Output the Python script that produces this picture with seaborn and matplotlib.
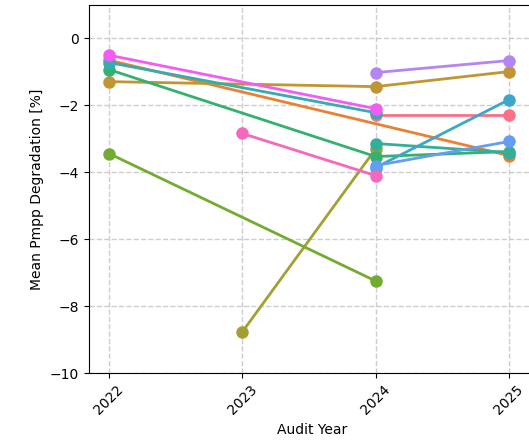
import matplotlib
matplotlib.use("Agg")
import matplotlib.pyplot as plt
import seaborn as sns
import pandas as pd
import numpy as np

years = [2022, 2023, 2024, 2025]
series_names = ["S01", "S02", "S03", "S04", "S05", "S06", "S07",
                "S08", "S09", "S10", "S11", "S12", "S13"]
# values per year (None = not audited that year)
s01 = [None, None, -2.30, -2.30]
s02 = [-0.65, None, None, -3.50]
s03 = [-1.29, None, -1.44, -0.99]
s04 = [None, -8.77, -3.30, None]
s05 = [-3.44, None, -7.25, None]
s06 = [-0.93, None, -3.53, -3.38]
s07 = [None, None, -3.14, -3.41]
s08 = [-0.72, None, -2.22, None]
s09 = [None, None, -3.86, -1.83]
s10 = [None, None, -3.80, -3.08]
s11 = [None, None, -1.02, -0.66]
s12 = [-0.50, None, -2.10, None]
s13 = [None, -2.84, -4.10, None]
all_series = [s01, s02, s03, s04, s05, s06, s07, s08, s09, s10, s11, s12, s13]

rows = []
for name, vals in zip(series_names, all_series):
    for yr, v in zip(years, vals):
        if v is not None:
            rows.append({"Audit Year": yr, "Mean Pmpp Degradation [%]": v, "Group": name})
df = pd.DataFrame(rows)

fig = plt.figure(figsize=(5.29, 4.48), dpi=100)
ax = fig.add_axes([89 / 529, 75 / 448, 446 / 529, 368 / 448])
palette = sns.color_palette("husl", len(series_names))
sns.lineplot(data=df, x="Audit Year", y="Mean Pmpp Degradation [%]", hue="Group",
             hue_order=series_names, palette=palette, marker="o", markersize=9,
             markeredgewidth=0, linewidth=2, legend=False, ax=ax, estimator=None)
ax.set_xlim(2021.85, 2021.85 + 446 / 133.33)
ax.set_ylim(-10, 1)
ax.set_xticks(years)
ax.set_xticklabels([str(y) for y in years], rotation=45)
ax.set_yticks([0, -2, -4, -6, -8, -10])
ax.grid(True, linestyle="--", color="#c8c8c8", linewidth=1, alpha=0.9)
ax.set_axisbelow(True)
for sp in ax.spines.values():
    sp.set_color("black")
ax.tick_params(labelsize=10)
ax.set_xlabel("Audit Year", fontsize=10)
ax.set_ylabel("Mean Pmpp Degradation [%]", fontsize=10)
fig.savefig("out.png", dpi=100)
